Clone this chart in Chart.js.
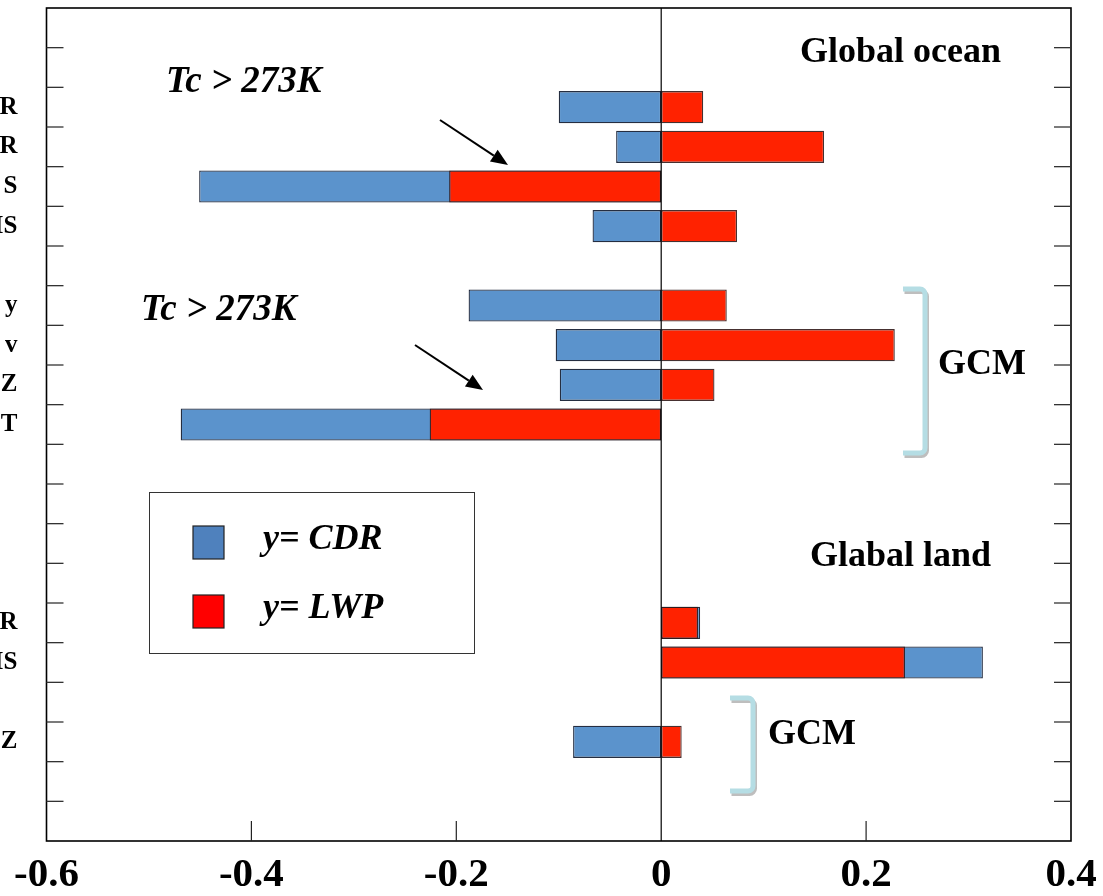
<!DOCTYPE html>
<html>
<head>
<meta charset="utf-8">
<script src="https://cdn.jsdelivr.net/npm/chart.js@4.4.0/dist/chart.umd.min.js"></script>
<style>
html,body{margin:0;padding:0;background:#fff;}
#wrap{width:1103px;height:896px;position:relative;}
</style>
</head>
<body>
<div id="wrap"><canvas id="c" width="1103" height="896"></canvas></div>
<script>
// ---- data ----
const categories = ["", "", "R", "R", "S", "IS", "", "y", "v", "Z", "T", "", "", "", "", "R", "IS", "", "Z", "", ""];
const cdrValues = [null, null, -0.100, -0.044, -0.451, -0.067, null, -0.188, -0.103, -0.099, -0.469, null, null, null, null, 0.038, 0.314, null, -0.086, null, null];
const lwpValues = [null, null, 0.041, 0.159, -0.207, 0.074, null, 0.064, 0.228, 0.052, -0.226, null, null, null, null, 0.036, 0.238, null, 0.020, null, null];
const xTicks = [-0.6, -0.4, -0.2, 0, 0.2, 0.4];
const seriesNames = ["y= CDR", "y= LWP"];
const regionLabels = ["Global ocean", "Glabal land"];
const groupLabel = "GCM";
const noteLabel = "Tc > 273K";

const SERIF = '"Liberation Serif", "Times New Roman", serif';
const barBlue = '#5B93CC';
const barRed = '#FF2200';
const legBlue = '#4F81BD';
const legRed = '#FF0000';

function line(ctx, x1, y1, x2, y2) { ctx.beginPath(); ctx.moveTo(x1, y1); ctx.lineTo(x2, y2); ctx.stroke(); }

function arrow(ctx, x1, y1, x2, y2) {
  const ang = Math.atan2(y2 - y1, x2 - x1);
  const hl = 17, hw = 7;
  const bx = x2 - hl * Math.cos(ang), by = y2 - hl * Math.sin(ang);
  ctx.strokeStyle = '#000'; ctx.lineWidth = 2;
  line(ctx, x1, y1, bx, by);
  ctx.fillStyle = '#000';
  ctx.beginPath();
  ctx.moveTo(x2, y2);
  ctx.lineTo(bx + hw * Math.sin(ang), by - hw * Math.cos(ang));
  ctx.lineTo(bx - hw * Math.sin(ang), by + hw * Math.cos(ang));
  ctx.closePath(); ctx.fill();
}

function bracket(ctx, xl, xr, yt, yb) {
  const r = 5;
  const path = (dx, dy) => {
    ctx.beginPath();
    ctx.moveTo(xl + dx, yt + dy);
    ctx.lineTo(xr - r + dx, yt + dy);
    ctx.arcTo(xr + dx, yt + dy, xr + dx, yt + r + dy, r);
    ctx.lineTo(xr + dx, yb - r + dy);
    ctx.arcTo(xr + dx, yb + dy, xr - r + dx, yb + dy, r);
    ctx.lineTo(xl + dx, yb + dy);
    ctx.stroke();
  };
  ctx.lineWidth = 5; ctx.lineCap = 'butt';
  ctx.strokeStyle = '#BEBEBE'; path(1.5, 2.5);
  ctx.strokeStyle = '#B5DDE4'; path(0, 0);
}

const deco = {
  id: 'deco',
  afterDatasetsDraw(chart) {
    const { ctx, chartArea: a, scales: { x, y } } = chart;
    ctx.save();
    const x0 = x.getPixelForValue(0);
    ctx.strokeStyle = '#000'; ctx.lineWidth = 1.2;
    line(ctx, x0, a.top, x0, a.bottom);
    ctx.lineWidth = 1.6; ctx.strokeStyle = '#000';
    ctx.strokeRect(a.left, a.top, a.right - a.left, a.bottom - a.top);
    ctx.lineWidth = 1.3; ctx.strokeStyle = '#333';
    for (let k = 1; k < categories.length; k++) {
      const yy = (y.getPixelForValue(k - 1) + y.getPixelForValue(k)) / 2;
      line(ctx, a.left, yy, a.left + 17, yy);
      line(ctx, a.right - 17, yy, a.right, yy);
    }
    ctx.strokeStyle = '#222'; ctx.lineWidth = 1.2;
    xTicks.forEach(v => {
      if (v <= x.min || v >= x.max || v === 0) return;
      const xx = x.getPixelForValue(v);
      line(ctx, xx, a.bottom - 20, xx, a.bottom);
    });
    ctx.restore();
  },
  afterDraw(chart) {
    const { ctx } = chart;
    ctx.save();
    ctx.fillStyle = '#000';
    ctx.textAlign = 'left'; ctx.textBaseline = 'middle';
    ctx.font = 'bold 36px ' + SERIF;
    ctx.fillText(regionLabels[0], 800, 53);
    ctx.fillText(regionLabels[1], 810, 557);
    ctx.fillText(groupLabel, 938, 365);
    ctx.fillText(groupLabel, 768, 735);
    ctx.font = 'italic bold 37px ' + SERIF;
    ctx.fillText(noteLabel, 166, 82);
    ctx.fillText(noteLabel, 141, 310);
    arrow(ctx, 440, 120, 508, 165);
    arrow(ctx, 415, 345, 483, 390);
    bracket(ctx, 903, 925, 289, 453);
    bracket(ctx, 730, 753, 698, 791);
    // legend
    ctx.strokeStyle = '#333'; ctx.lineWidth = 1;
    ctx.strokeRect(149.5, 492.5, 325, 161);
    const ds = chart.data.datasets;
    const legColors = [legBlue, legRed];
    const legY = [542, 611];
    for (let i = 0; i < 2; i++) {
      ctx.fillStyle = legColors[i];
      ctx.fillRect(193, legY[i] - 16, 31, 33);
      ctx.strokeStyle = '#222'; ctx.lineWidth = 1.2;
      ctx.strokeRect(193, legY[i] - 16, 31, 33);
      ctx.fillStyle = '#000';
      ctx.font = 'italic bold 36px ' + SERIF;
      ctx.fillText(ds[i].label, 263, legY[i] - 2);
    }
    ctx.restore();
  }
};

new Chart(document.getElementById('c'), {
  type: 'bar',
  data: {
    labels: categories,
    datasets: [
      { label: seriesNames[0], data: cdrValues, backgroundColor: barBlue, borderColor: 'rgba(25,35,55,0.95)', borderWidth: 1.3, borderSkipped: false, order: 2 },
      { label: seriesNames[1], data: lwpValues, backgroundColor: barRed, borderColor: 'rgba(50,25,25,0.9)', borderWidth: 1.3, borderSkipped: false, order: 1 }
    ]
  },
  options: {
    indexAxis: 'y',
    responsive: false,
    animation: false,
    devicePixelRatio: 1,
    layout: { padding: { top: 8, right: 32, bottom: 0, left: 0 } },
    datasets: { bar: { barPercentage: 0.81, categoryPercentage: 1.0 } },
    plugins: { legend: { display: false }, tooltip: { enabled: false } },
    scales: {
      x: {
        type: 'linear', min: -0.6, max: 0.4,
        afterBuildTicks: s => { s.ticks = xTicks.map(v => ({ value: v })); },
        afterFit: s => { s.height = 55; s.paddingLeft = 0; s.paddingRight = 0; },
        grid: { display: false, drawTicks: false },
        border: { display: false },
        ticks: { color: '#000', padding: 10, font: { family: SERIF, size: 41, weight: 'bold' }, callback: v => String(v), maxRotation: 0, autoSkip: false }
      },
      y: {
        stacked: true,
        afterFit: s => { s.width = 46.5; s.paddingTop = 0; s.paddingBottom = 0; },
        grid: { display: false, drawTicks: false },
        border: { display: false },
        ticks: { color: '#000', padding: 29, autoSkip: false, font: { family: SERIF, size: 25, weight: 'bold' } }
      }
    }
  },
  plugins: [deco]
});
</script>
</body>
</html>
